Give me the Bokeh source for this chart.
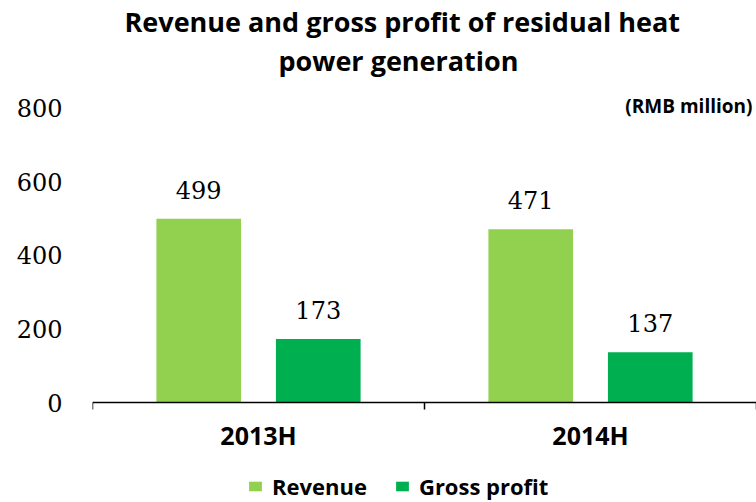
from bokeh.plotting import figure
from bokeh.models import (ColumnDataSource, Range1d, FixedTicker, Legend, LegendItem,
                          Title, Label)
from bokeh.transform import dodge
from bokeh.core.properties import value
from bokeh.embed import file_html
from bokeh.resources import INLINE

# ---- data ----
categories = ["2013H", "2014H"]
revenue = [499, 471]
gross_profit = [173, 137]
y_ticks = [0, 200, 400, 600, 800]
title_lines = ["Revenue and gross profit of residual heat", "power generation"]
unit_label = "(RMB million)"
series_names = ["Revenue", "Gross profit"]
colors = ["#92D050", "#00B050"]

xpos = [i + 0.5 for i in range(len(categories))]
src = ColumnDataSource(dict(x=xpos, cat=categories, rev=revenue, gp=gross_profit,
                            rev_t=[str(v) for v in revenue],
                            gp_t=[str(v) for v in gross_profit]))

# frame runs to the bottom edge; the range below 0 holds the axis labels and legend
p = figure(width=756, height=502, output_backend="svg", toolbar_location=None,
           x_range=Range1d(0, len(categories)), y_range=Range1d(-271, 880),
           min_border_left=92, min_border_right=0, min_border_top=0,
           min_border_bottom=0, title=None)
p.outline_line_color = None
p.xgrid.visible = False
p.ygrid.visible = False

off = 0.18
bw = 0.255
r1 = p.vbar(x=dodge("x", -off), top="rev", width=bw, source=src,
            fill_color=colors[0], line_color=None)
r2 = p.vbar(x=dodge("x", off), top="gp", width=bw, source=src,
            fill_color=colors[1], line_color=None)

lab_kw = dict(text_font=value("DejaVu Serif"), text_font_size="24px",
              text_align="center", text_baseline="alphabetic", y_offset=-29,
              text_color="black", source=src)
p.text(x=dodge("x", -off), y="rev", text="rev_t", **lab_kw)
p.text(x=dodge("x", off), y="gp", text="gp_t", **lab_kw)

# x axis, pinned at value 0
xa = p.xaxis[0]
xa.fixed_location = 0
xa.ticker = FixedTicker(ticks=xpos, minor_ticks=list(range(len(categories) + 1)))
xa.major_label_overrides = {x: c for x, c in zip(xpos, categories)}
xa.axis_line_color = "black"
xa.axis_line_width = 1.5
xa.major_tick_line_color = None
xa.major_tick_out = 0
xa.major_tick_in = 0
xa.minor_tick_line_color = "black"
xa.minor_tick_line_width = 1.5
xa.minor_tick_out = 7
xa.minor_tick_in = 0
xa.major_label_standoff = 8
xa.major_label_text_font = "Open Sans"
xa.major_label_text_font_style = "bold"
xa.major_label_text_font_size = "25px"
xa.major_label_text_color = "black"

# y axis
ya = p.yaxis[0]
ya.ticker = FixedTicker(ticks=y_ticks)
ya.axis_line_color = None
ya.major_tick_line_color = None
ya.minor_tick_line_color = None
ya.major_tick_out = 0
ya.major_tick_in = 0
ya.major_label_standoff = 30
ya.major_label_text_font = "DejaVu Serif"
ya.major_label_text_font_size = "24px"
ya.major_label_text_color = "black"

# unit label
p.add_layout(Label(x=p.x_range.end, y=y_ticks[-1], text=unit_label, text_align="right",
                   text_baseline="middle", x_offset=-4, y_offset=2,
                   text_font="Open Sans", text_font_style="bold",
                   text_font_size="19px", text_color="black"))

# titles (last added is top-most)
title_offsets = [32, 186]
for line, o in reversed(list(zip(title_lines, title_offsets))):
    p.add_layout(Title(text=line, align="left", text_font="Open Sans",
                       text_font_style="bold", text_font_size="27px",
                       text_line_height=0.9, text_color="black",
                       offset=o, standoff=0), "above")

legend = Legend(items=[LegendItem(label=series_names[0], renderers=[r1]),
                       LegendItem(label=series_names[1], renderers=[r2])],
                orientation="horizontal", location=(155, 1),
                glyph_width=16, glyph_height=12, label_standoff=9, spacing=27,
                padding=0, margin=0, border_line_color=None,
                background_fill_alpha=0,
                label_text_font="Open Sans", label_text_font_style="bold",
                label_text_font_size="22px", label_text_color="black")
p.add_layout(legend, "center")

open("out.html", "w").write(file_html(p, INLINE))
